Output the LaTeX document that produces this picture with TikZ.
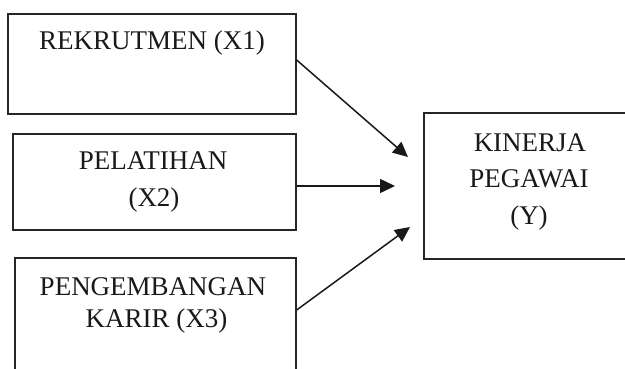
\documentclass[tikz,border=0pt]{standalone}
\usepackage{fontspec}
\setmainfont{Liberation Serif}
\usetikzlibrary{arrows.meta}
\begin{document}
\begin{tikzpicture}[x=1pt,y=-1pt,
  box/.style={draw=black!85,line width=1.3pt,rectangle,inner sep=0pt},
  lbl/.style={anchor=base,inner sep=0pt,font=\fontsize{27}{36}\selectfont,text=black!90},
  arr/.style={line width=1.5pt,draw=black!90,-{Triangle[length=15pt,width=14pt]}}]
\useasboundingbox (0,0) rectangle (625,369);
\clip (0,0) rectangle (625,369);
\fill[white] (0,0) rectangle (625,369);
% boxes
\node[box,minimum width=288pt,minimum height=100pt] (b1) at (152,64) {};
\node[box,minimum width=283pt,minimum height=96pt] (b2) at (154.5,182) {};
\node[box,minimum width=281pt,minimum height=142pt] (b3) at (155.5,329) {};
\node[box,minimum width=210pt,minimum height=146pt] (by) at (529,186) {};
% labels
\node[lbl] (t1) at (152,50) {REKRUTMEN (X1)};
\node[lbl] (t2a) at (153,169) {PELATIHAN};
\node[lbl] (t2b) at (154,207) {(X2)};
\node[lbl] (t3a) at (153,295) {PENGEMBANGAN};
\node[lbl] (t3b) at (156.5,327) {KARIR (X3)};
\node[lbl] (ty1) at (530,152) {KINERJA};
\node[lbl] (ty2) at (529,188) {PEGAWAI};
\node[lbl] (ty3) at (529,225) {(Y)};
% arrow ends
\coordinate (e1) at (408,157);
\coordinate (e2) at (395,186);
\coordinate (e3) at (410,227);
\draw[arr] ([yshift=4pt]b1.east) -- (e1);
\draw[arr] ([yshift=-4pt]b2.east) -- (e2);
\draw[arr] ([yshift=19pt]b3.east) -- (e3);
\end{tikzpicture}
\end{document}
